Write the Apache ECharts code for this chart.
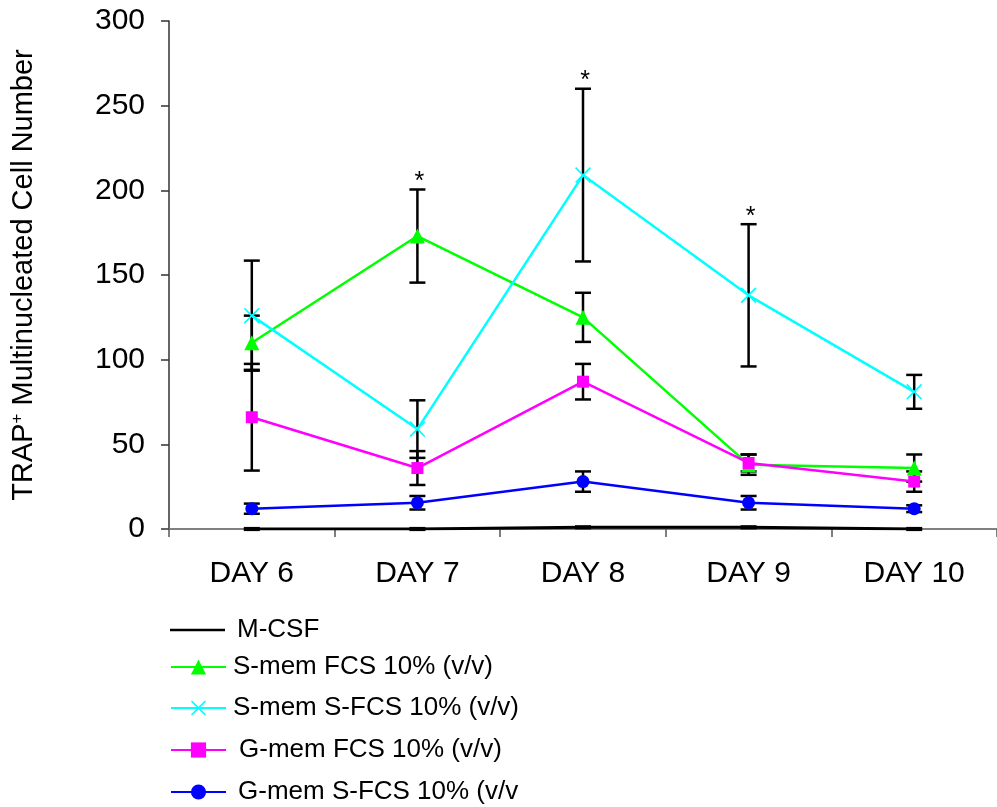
<!DOCTYPE html>
<html>
<head>
<meta charset="utf-8">
<style>
  html, body { margin: 0; padding: 0; background: #fff; }
  #chart { width: 997px; height: 807px; }
</style>
<script src="https://cdn.jsdelivr.net/npm/echarts@6/dist/echarts.min.js"></script>
</head>
<body>
<div id="chart"></div>
<script>
// Culture days on the x axis
const days = ['DAY 6', 'DAY 7', 'DAY 8', 'DAY 9', 'DAY 10'];

// Mean TRAP+ multinucleated cell counts and their error ranges (±)
const mcsf = [0, 0, 1, 1, 0];
const mcsfErr = [0.5, 0.5, 0.5, 0.5, 0.5];

const smemFcs = [110, 173, 125, 38, 36];
const smemFcsErr = [16, 27.5, 14.5, 6, 8];

const smemSfcs = [126, 59, 209, 138, 81];
const smemSfcsErr = [32.5, 17, 51, 42, 10];

const gmemFcs = [66, 36, 87, 39, 28];
const gmemFcsErr = [31.5, 10, 10.5, 5, 6];

const gmemSfcs = [12, 15.5, 28, 15.5, 12];
const gmemSfcsErr = [3, 4, 6, 4, 2];

// Significance markers per day
const significance = ['', '*', '*', '*', ''];

// Y axis ticks
const yTicks = [0, 50, 100, 150, 200, 250, 300];

const FONT = "'Liberation Sans', Arial, Helvetica, sans-serif";

const groups = [
  { name: 'M-CSF', values: mcsf, err: mcsfErr, color: '#000000', symbol: 'none', size: 0 },
  { name: 'S-mem FCS 10% (v/v)', values: smemFcs, err: smemFcsErr, color: '#00ff00', symbol: 'triangle', size: 15 },
  { name: 'S-mem S-FCS 10% (v/v)', values: smemSfcs, err: smemSfcsErr, color: '#00ffff',
    symbol: 'path://M0,1.5L1.5,0L10,8.5L18.5,0L20,1.5L11.5,10L20,18.5L18.5,20L10,11.5L1.5,20L0,18.5L8.5,10Z', size: 16 },
  { name: 'G-mem FCS 10% (v/v)', values: gmemFcs, err: gmemFcsErr, color: '#ff00ff', symbol: 'rect', size: 12 },
  { name: 'G-mem S-FCS 10% (v/v', values: gmemSfcs, err: gmemSfcsErr, color: '#0000ff', symbol: 'circle', size: 13 }
];

// Error bar: vertical stem with caps at both ends
function renderErrorBar(params, api) {
  const x = api.value(0);
  const lo = api.coord([x, api.value(1)]);
  const hi = api.coord([x, api.value(2)]);
  const hw = 8;
  const st = { stroke: '#000', lineWidth: 2.5 };
  return {
    type: 'group',
    children: [
      { type: 'line', shape: { x1: lo[0], y1: lo[1], x2: hi[0], y2: hi[1] }, style: st },
      { type: 'line', shape: { x1: lo[0] - hw, y1: lo[1], x2: lo[0] + hw, y2: lo[1] }, style: st },
      { type: 'line', shape: { x1: hi[0] - hw, y1: hi[1], x2: hi[0] + hw, y2: hi[1] }, style: st }
    ]
  };
}

const series = [];
groups.forEach(g => {
  series.push({
    type: 'custom',
    name: g.name + ' err',
    renderItem: renderErrorBar,
    encode: { x: 0, y: [1, 2] },
    data: g.values.map((v, i) => [i, v - g.err[i], v + g.err[i]]),
    z: 1,
    silent: true
  });
});
groups.forEach(g => {
  series.push({
    type: 'line',
    name: g.name,
    data: g.values,
    symbol: g.symbol,
    symbolSize: g.size,
    showSymbol: g.symbol !== 'none',
    lineStyle: { color: g.color, width: g.name === 'M-CSF' ? 3 : 2.5 },
    itemStyle: { color: g.color },
    z: 3,
    animation: false
  });
});

// Asterisks above the highest error cap of each marked day
const sigData = [];
significance.forEach((s, i) => {
  if (!s) return;
  const top = Math.max(...groups.map(g => g.values[i] + g.err[i]));
  sigData.push([i, top, s]);
});
series.push({
  type: 'custom',
  name: 'sig',
  renderItem: function (params, api) {
    const p = api.coord([api.value(0), api.value(1)]);
    return {
      type: 'text',
      x: p[0] + 2,
      y: p[1] + 5,
      style: { text: sigData[params.dataIndex][2], font: '25px ' + FONT, fill: '#000', align: 'center', verticalAlign: 'bottom' }
    };
  },
  encode: { x: 0, y: 1 },
  data: sigData,
  z: 4,
  silent: true
});

// Individual legend rows
const rowCenters = [630, 667, 708, 750, 792];
const textPads = [7, 2, 2, 8, 7];
const legends = groups.map((g, i) => {
  const plain = g.symbol === 'none';
  return {
    data: [plain ? { name: g.name, icon: 'rect', itemStyle: { color: g.color } } : g.name],
    left: 170,
    top: rowCenters[i] - 13,
    orient: 'vertical',
    padding: 0,
    itemWidth: 55,
    itemHeight: plain ? 2.5 : 19,
    selectedMode: false,
    textStyle: { fontSize: 26, fontFamily: FONT, color: '#000', padding: [0, 0, 0, textPads[i]] }
  };
});

const chart = echarts.init(document.getElementById('chart'));
chart.setOption({
  backgroundColor: '#fff',
  animation: false,
  grid: { left: 169, right: -7, top: 21, bottom: 278 },
  legend: legends,
  xAxis: {
    type: 'category',
    data: days,
    boundaryGap: true,
    axisLine: { lineStyle: { color: '#808080', width: 2 } },
    axisTick: { show: true, length: 8, lineStyle: { color: '#555', width: 1.5 } },
    axisLabel: { fontSize: 30, fontFamily: FONT, color: '#000', margin: 30 }
  },
  yAxis: {
    type: 'value',
    min: yTicks[0],
    max: yTicks[yTicks.length - 1],
    interval: 50,
    name: '{a|TRAP}{s|+}{a| Multinucleated Cell Number}',
    nameLocation: 'middle',
    nameRotate: 90,
    nameGap: 131,
    nameTextStyle: {
      rich: {
        a: { fontSize: 29, fontFamily: FONT, color: '#000' },
        s: { fontSize: 17, fontFamily: FONT, color: '#000', verticalAlign: 'top' }
      }
    },
    axisLine: { show: true, lineStyle: { color: '#333', width: 1.5 } },
    axisTick: { show: true, length: 8, lineStyle: { color: '#333', width: 1.5 } },
    splitLine: { show: false },
    axisLabel: { fontSize: 30, fontFamily: FONT, color: '#000', margin: 24 }
  },
  series: series
});
</script>
</body>
</html>
